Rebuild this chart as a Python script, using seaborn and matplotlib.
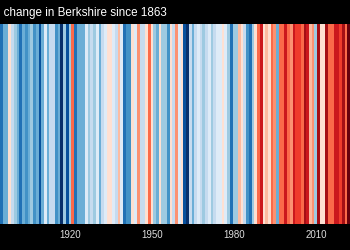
import matplotlib
matplotlib.use("Agg")
import matplotlib.pyplot as plt
from matplotlib.colors import ListedColormap
import numpy as np
import pandas as pd
import seaborn as sns

years = list(range(1894, 2023))
temps = [
    9.2, 8.9, 9.3, 9.3, 10.0, 9.6, 9.5, 9.2, 9.0, 9.3,   # 1894-1903
    9.1, 9.2, 9.5, 9.1, 9.2, 8.8, 9.2, 9.8, 9.3, 9.6,     # 1904-1913
    9.6, 9.1, 9.2, 8.6, 9.4, 8.8, 9.5, 10.4, 9.0, 9.3,    # 1914-1923
    9.2, 9.2, 9.7, 9.4, 9.6, 9.4, 9.7, 9.3, 9.6, 9.8,     # 1924-1933
    9.9, 9.9, 9.7, 9.6, 10.1, 9.8, 9.0, 9.1, 9.1, 10.0,   # 1934-1943
    9.7, 10.2, 9.6, 9.6, 10.0, 10.4, 10.0, 9.5, 9.3, 9.9, # 1944-1953
    9.4, 9.4, 9.1, 10.0, 9.6, 10.3, 9.8, 10.0, 8.8, 8.6,  # 1954-1963
    9.6, 9.2, 9.6, 9.8, 9.6, 9.4, 9.6, 9.7, 9.4, 9.6,     # 1964-1973
    9.7, 9.8, 9.9, 9.7, 9.4, 9.0, 9.5, 9.4, 10.1, 10.0,   # 1974-1983
    9.6, 9.1, 9.0, 9.4, 10.0, 10.5, 10.7, 9.9, 10.1, 9.9, # 1984-1993
    10.5, 10.3, 9.3, 10.4, 10.5, 10.7, 10.5, 10.2, 10.7, 10.6,  # 1994-2003
    10.6, 10.5, 10.9, 10.7, 10.1, 10.2, 9.5, 10.9, 10.0, 9.9,   # 2004-2013
    11.0, 10.5, 10.5, 10.7, 10.8, 10.6, 10.9, 10.5, 11.2,       # 2014-2022
]
tick_years = [1890, 1920, 1950, 1980, 2010]
title = "Temperature change in Berkshire since 1863"

stripe_colors = ['#08306b', '#08519c', '#2171b5', '#4292c6', '#6baed6', '#9ecae1',
                 '#c6dbef', '#deebf7', '#fee0d2', '#fcbba1', '#fc9272', '#fb6a4a',
                 '#ef3b2c', '#cb181d', '#a50f15', '#67000d']
cmap = ListedColormap(stripe_colors)

df = pd.DataFrame([temps], columns=years)

fig = plt.figure(figsize=(3.5, 2.5), dpi=100, facecolor='black')
ax = fig.add_axes([0, 0.104, 1, 0.8])
ax.set_facecolor('black')
sns.heatmap(df, ax=ax, cmap=cmap, vmin=8.5, vmax=11.2, cbar=False,
            xticklabels=False, yticklabels=False)

def pos(y):
    return y - years[0] + 0.5

ax.set_xticks([])
ax.set_yticks([])
ax.set_xlabel('')
ax.set_ylabel('')
ax.set_xlim(pos(1894.4), pos(2022.5))
for s in ax.spines.values():
    s.set_visible(False)

# year labels below the stripes (placed in data coordinates)
for y in tick_years:
    ax.text(pos(y), -0.055, str(y), transform=ax.get_xaxis_transform(),
            ha='center', va='center', color='#dddddd', fontsize=7,
            family='Liberation Sans', clip_on=False)

fig.text(167 / 350, 1 - 13 / 250, title, ha='right', va='center',
         color='white', fontsize=8.4, family='Liberation Sans')

fig.savefig('out.png', dpi=100, facecolor='black')
